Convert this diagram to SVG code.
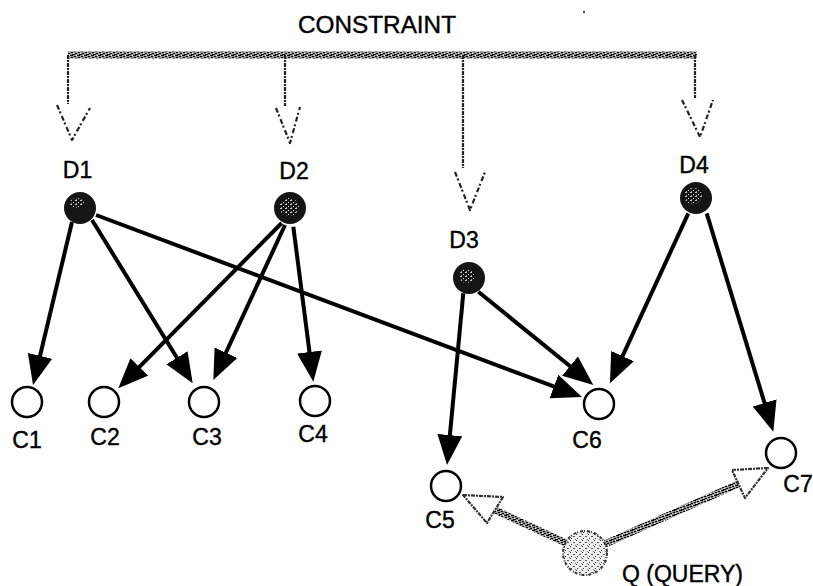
<svg xmlns="http://www.w3.org/2000/svg" width="813" height="586" viewBox="0 0 813 586">
<style>
.lbl{font-family:"Liberation Sans",Arial,sans-serif;font-size:23px;fill:#000;stroke:#000;stroke-width:0.4;text-anchor:middle}
.edge{stroke:#000;stroke-width:4;fill:none;marker-end:url(#ah)}
.cnode{fill:#fff;stroke:#000;stroke-width:2.5}
.dnode{fill:#151515}
.dhi{fill:url(#speck)}
.cbar{stroke:url(#grain);stroke-width:7;fill:none}
.cdrop{stroke:#222;stroke-width:2.2;fill:none;stroke-dasharray:4 1 2 1}
.chead{stroke:#222;stroke-width:2.2;fill:none;stroke-dasharray:5 2 2 3;stroke-linejoin:round}
.qshaft{stroke:url(#grain);stroke-width:7;fill:none}
.qhead{stroke:#333;stroke-width:2.2;fill:#fff;stroke-dasharray:4 1 2 1;stroke-linejoin:round}
</style>
<defs>
<marker id="ah" viewBox="0 0 30 25" refX="22" refY="12.5" markerWidth="30" markerHeight="25" markerUnits="userSpaceOnUse" orient="auto">
<path d="M0,0 L30,12.5 L0,25 z" fill="#000"/>
</marker>
<pattern id="grain" width="7" height="5" patternUnits="userSpaceOnUse">
<rect width="7" height="5" fill="#999"/>
<rect x="0" y="0" width="3" height="1" fill="#000"/>
<rect x="4" y="1" width="2" height="1" fill="#000"/>
<rect x="1" y="2" width="2" height="1" fill="#000"/>
<rect x="5" y="3" width="2" height="1" fill="#000"/>
<rect x="2" y="4" width="3" height="1" fill="#000"/>
<rect x="6" y="0" width="1" height="1" fill="#fff"/>
<rect x="3" y="3" width="1" height="1" fill="#fff"/>
</pattern>
<pattern id="speck" width="5" height="4" patternUnits="userSpaceOnUse">
<rect width="5" height="4" fill="#151515"/>
<rect x="0" y="0" width="2" height="1" fill="#ccc"/>
<rect x="3" y="2" width="1" height="1" fill="#eee"/>
<rect x="1" y="3" width="1" height="1" fill="#999"/>
</pattern>
<pattern id="stip" width="6" height="6" patternUnits="userSpaceOnUse">
<rect width="6" height="6" fill="#eee"/>
<rect x="0" y="0" width="1" height="1" fill="#333"/>
<rect x="3" y="2" width="2" height="1" fill="#555"/>
<rect x="1" y="4" width="1" height="1" fill="#333"/>
<rect x="5" y="5" width="1" height="1" fill="#777"/>
</pattern>
</defs>

<rect width="813" height="586" fill="#fff"/>

<g id="constraint">
<text class="lbl" x="377" y="33" font-size="24" textLength="158" lengthAdjust="spacingAndGlyphs">CONSTRAINT</text>
<path class="cbar" d="M68,55 H697"/>
<path class="cdrop" d="M68,55 V104 M285,55 V106 M463,55 V168 M695,55 V98"/>
<path class="chead" d="M57,105 L72,140 L90,108"/>
<path class="chead" d="M276,108 L290,143 L300,107"/>
<path class="chead" d="M455,172 L470,210 L485,172"/>
<path class="chead" d="M682,100 L700,137 L713,100"/>
<circle cx="584" cy="12" r="1" fill="#000"/>
</g>

<g id="connectors">
<line class="edge" x1="72" y1="222" x2="34.9" y2="377.2"/>
<line class="edge" x1="92" y1="220" x2="188.5" y2="376.5"/>
<line class="edge" x1="96" y1="215" x2="574.5" y2="394.2" stroke-width="5"/>
<line class="edge" x1="281.7" y1="223" x2="123.9" y2="382.6"/>
<line class="edge" x1="285" y1="225" x2="216.7" y2="372.7"/>
<line class="edge" x1="293.3" y1="226.7" x2="312.3" y2="373.8"/>
<line class="edge" x1="463.3" y1="293.3" x2="447.8" y2="457" stroke-width="3.5"/>
<line class="edge" x1="478.3" y1="291.7" x2="587.1" y2="380"/>
<line class="edge" x1="688.3" y1="213.3" x2="613.3" y2="376.1"/>
<line class="edge" x1="706.7" y1="213.3" x2="771" y2="424"/>
<line class="qshaft" x1="566" y1="543" x2="495" y2="510"/>
<line class="qshaft" x1="605" y1="544" x2="738" y2="484"/>
<path class="qhead" d="M463,495 L503,497 L487,523 Z"/>
<path class="qhead" d="M768,468 L732,470 L745,498 Z"/>
</g>

<g id="D1"><circle class="dnode" cx="80" cy="208" r="16"/><ellipse class="dhi" cx="77" cy="203" rx="7" ry="5"/><text class="lbl" x="77.5" y="178">D1</text></g>
<g id="D2"><circle class="dnode" cx="290" cy="208" r="16"/><ellipse class="dhi" cx="289" cy="207" rx="10" ry="9"/><text class="lbl" x="294" y="179">D2</text></g>
<g id="D3"><circle class="dnode" cx="469" cy="278" r="16"/><ellipse class="dhi" cx="467" cy="276" rx="8" ry="7"/><text class="lbl" x="464" y="248">D3</text></g>
<g id="D4"><circle class="dnode" cx="696" cy="198" r="16"/><ellipse class="dhi" cx="693" cy="196" rx="9" ry="8"/><text class="lbl" x="694" y="173">D4</text></g>

<g id="C1"><circle class="cnode" cx="27" cy="402" r="15"/><text class="lbl" x="27" y="448">C1</text></g>
<g id="C2"><circle class="cnode" cx="104" cy="402" r="15"/><text class="lbl" x="105" y="445">C2</text></g>
<g id="C3"><circle class="cnode" cx="204" cy="402" r="15"/><text class="lbl" x="207" y="445">C3</text></g>
<g id="C4"><circle class="cnode" cx="315" cy="401" r="15"/><text class="lbl" x="313" y="442">C4</text></g>
<g id="C5"><circle class="cnode" cx="446" cy="486" r="15"/><text class="lbl" x="440" y="528">C5</text></g>
<g id="C6"><circle class="cnode" cx="599" cy="404" r="15"/><text class="lbl" x="587" y="448">C6</text></g>
<g id="C7"><circle class="cnode" cx="781" cy="453" r="15"/><text class="lbl" x="798" y="492">C7</text></g>

<g id="Q"><circle cx="585" cy="553" r="22" fill="url(#stip)" stroke="#333" stroke-width="2" stroke-dasharray="3 1 1 2"/><text class="lbl" x="622" y="582" style="text-anchor:start">Q (QUERY)</text></g>
</svg>
